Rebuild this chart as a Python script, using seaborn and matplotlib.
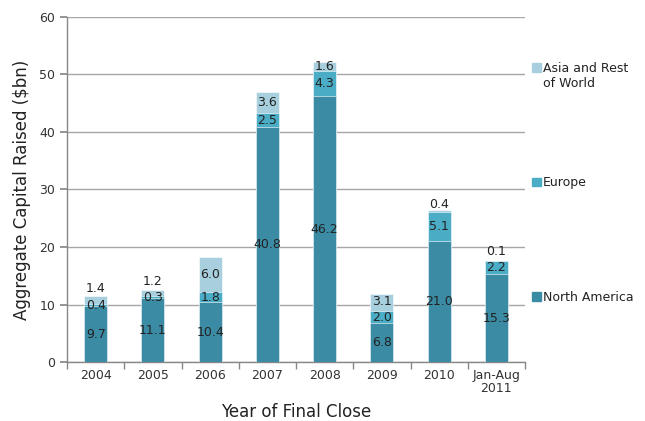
import numpy as np
import pandas as pd
import matplotlib.pyplot as plt
import seaborn as sns
from matplotlib.patches import Patch

sns.set_theme(style="white")
plt.rcParams["font.family"] = ["DejaVu Sans"]

years = ["2004", "2005", "2006", "2007", "2008", "2009", "2010", "Jan-Aug\n2011"]
north_america = [9.7, 11.1, 10.4, 40.8, 46.2, 6.8, 21.0, 15.3]
europe = [0.4, 0.3, 1.8, 2.5, 4.3, 2.0, 5.1, 2.2]
asia_row = [1.4, 1.2, 6.0, 3.6, 1.6, 3.1, 0.4, 0.1]

c_na = "#3A8BA3"
c_eu = "#4BACC6"
c_as = "#A8CFDD"

df = pd.DataFrame({"year": years, "na": north_america, "eu": europe, "asia": asia_row})
df["na_eu"] = df["na"] + df["eu"]
df["total"] = df["na_eu"] + df["asia"]

fig = plt.figure(figsize=(6.45, 4.21), dpi=100)
ax = fig.add_axes([0.104, 0.140, 0.710, 0.820])

for col, color in [("total", c_as), ("na_eu", c_eu), ("na", c_na)]:
    sns.barplot(data=df, x="year", y=col, color=color, width=0.4, ax=ax,
                edgecolor="white", linewidth=0.4, zorder=3, saturation=1)

# etichette dei valori
txt = dict(ha="center", va="center", fontsize=9, color="#222222", zorder=5)
for i, r in df.iterrows():
    y_na = r["na"] / 2
    y_eu = r["na"] + r["eu"] / 2
    y_as = max(r["na_eu"] + r["asia"] / 2, y_eu + 2.8)
    if r["asia"] < 1:
        y_as = max(y_as, r["total"] + 0.8)
    ax.text(i, y_na, f"{r['na']:.1f}", **txt)
    ax.text(i, y_eu, f"{r['eu']:.1f}", **txt)
    ax.text(i, y_as, f"{r['asia']:.1f}", **txt)

ax.set_ylim(0, 60)
ax.set_xlim(-0.5, len(years) - 0.5)
ax.set_yticks(np.arange(0, 61, 10))
ax.yaxis.grid(True, color="#A6A6A6", linewidth=1, zorder=0)
ax.set_axisbelow(True)

ax.set_xticks(np.arange(len(years)))
ax.set_xticklabels(years, fontsize=9, color="#333333", linespacing=1.0)
ax.set_xticks(np.arange(len(years) + 1) - 0.5, minor=True)
ax.tick_params(axis="x", which="major", length=0, pad=5)
ax.tick_params(axis="x", which="minor", length=5, color="#888888", direction="out", bottom=True)
ax.tick_params(axis="y", labelsize=9, labelcolor="#333333", length=5, color="#888888",
               direction="out", left=True)

for s in ["top", "right"]:
    ax.spines[s].set_visible(False)
for s in ["left", "bottom"]:
    ax.spines[s].set_color("#888888")
    ax.spines[s].set_linewidth(1)

ax.set_xlabel("Year of Final Close", fontsize=12, color="#222222", labelpad=6)
ax.set_ylabel("Aggregate Capital Raised ($bn)", fontsize=12, color="#222222", labelpad=6)

# legenda: il quadratino resta sulla prima riga di "Asia and Rest / of World"
handles = [Patch(color=c_as), Patch(color=c_eu), Patch(color=c_na)]
labels = ["Asia and Rest", "Europe", "North America"]
leg = fig.legend(handles, labels, loc="upper left", bbox_to_anchor=(0.815, 0.867),
                 frameon=False, fontsize=9, labelspacing=8.1, handlelength=0.7,
                 handleheight=0.7, handletextpad=0.2, borderpad=0)
for t in leg.get_texts():
    t.set_color("#222222")

fig.canvas.draw()
bb = leg.get_texts()[0].get_window_extent().transformed(fig.transFigure.inverted())
fig.text(bb.x0, bb.y0 - 0.004, "of World", fontsize=9, color="#222222", va="top", ha="left")

fig.savefig("out.png", dpi=100)
